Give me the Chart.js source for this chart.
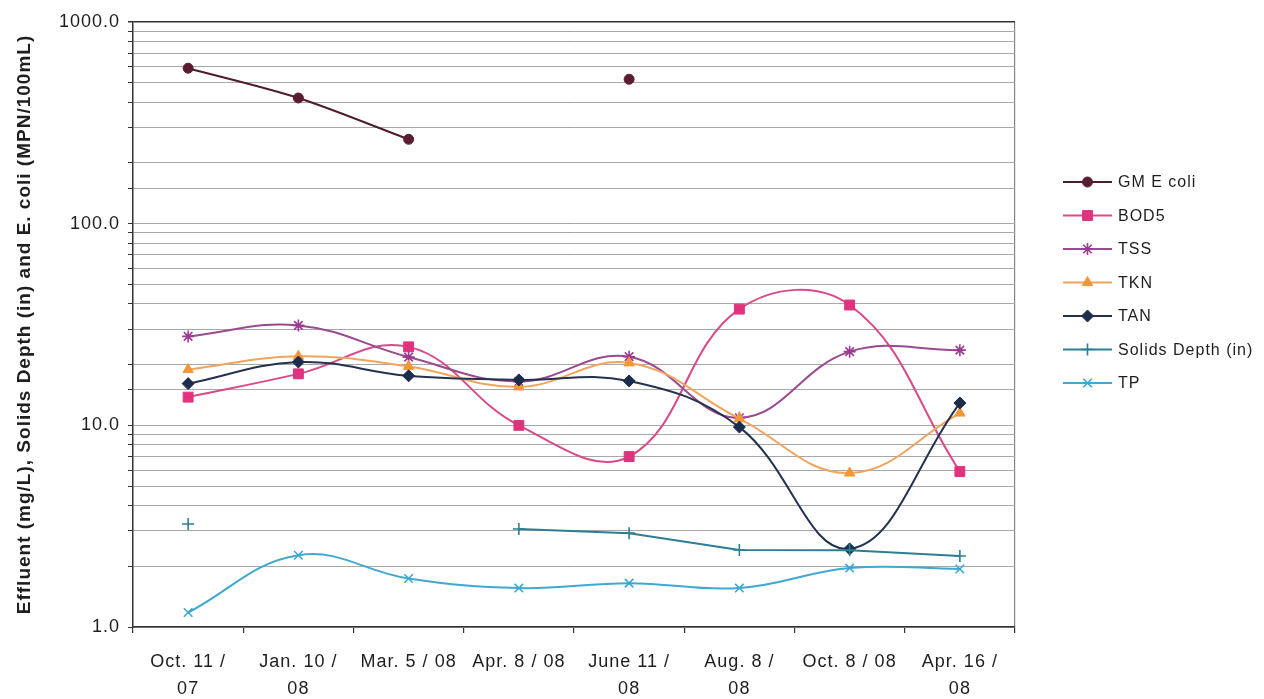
<!DOCTYPE html>
<html>
<head>
<meta charset="utf-8">
<title>Effluent quality and solids depth</title>
<script src="https://cdn.jsdelivr.net/npm/chart.js@4.4.1/dist/chart.umd.min.js"></script>
<style>
  html, body { margin: 0; padding: 0; background: #ffffff; }
  #wrap { width: 1264px; height: 699px; }
</style>
</head>
<body>
<div id="wrap"><canvas id="chart" width="1264" height="699"></canvas></div>
<script>
// Sampling dates
const dates = [
  ['Oct. 11 /', '07'],
  ['Jan. 10 /', '08'],
  'Mar. 5 / 08',
  'Apr. 8 / 08',
  ['June 11 /', '08'],
  ['Aug. 8 /', '08'],
  'Oct. 8 / 08',
  ['Apr. 16 /', '08']
];

// Measured values (null = not sampled)
const gmEColi     = [590, 420, 262, null, 520, null, null, null];
const bod5        = [13.8, 18.0, 24.5, 10.0, 7.0, 37.7, 39.5, 5.9];
const tss         = [27.6, 31.3, 21.8, 16.5, 21.9, 10.9, 23.2, 23.6];
const tkn         = [18.9, 22.0, 19.6, 15.5, 20.4, 10.8, 5.8, 11.5];
const tan         = [16.1, 20.6, 17.6, 16.8, 16.6, 9.8, 2.44, 12.9];
const solidsDepth = [3.24, null, null, 3.06, 2.92, 2.41, 2.40, 2.25];
const tp          = [1.18, 2.27, 1.74, 1.56, 1.65, 1.56, 1.96, 1.94];

// Axis range and title
const yMin = 1;
const yMax = 1000;
const yTitle = 'Effluent (mg/L), Solids Depth (in) and E. coli (MPN/100mL)';

const FONT = "'Liberation Sans', Arial, Helvetica, sans-serif";
const SPACING = '1px';

function series(label, data, color, lineColor, style, radius, tension, borderW) {
  return {
    label: label,
    data: data,
    borderColor: lineColor,
    backgroundColor: color,
    borderWidth: 2,
    pointStyle: style,
    pointRadius: radius,
    pointHoverRadius: radius,
    pointBackgroundColor: color,
    pointBorderColor: color,
    pointBorderWidth: borderW,
    tension: tension,
    spanGaps: false,
    fill: false
  };
}

const datasets = [
  series('GM E coli', gmEColi, '#5a1d30', '#4e1c2c', 'circle', 5, 0.3, 1),
  series('BOD5', bod5, '#e0337e', '#d94a8a', 'rect', 7, 0.4, 1),
  series('TSS', tss, '#9b3a90', '#9a4a8f', 'star', 6, 0.4, 1.6),
  series('TKN', tkn, '#f29638', '#f0a55e', 'triangle', 6, 0.4, 1),
  series('TAN', tan, '#1c2c4c', '#24324f', 'rectRot', 6, 0.4, 1),
  series('Solids Depth (in)', solidsDepth, '#2b7f93', '#2e7e92', 'cross', 6, 0, 1.6),
  series('TP', tp, '#38a8d2', '#3fa9d2', 'crossRot', 6, 0.4, 1.6)
];
// later series are painted over earlier ones
datasets.forEach((d, i) => { d.order = datasets.length - 1 - i; });

// Wide text rendering for every label on the canvas
const textSpacing = {
  id: 'textSpacing',
  beforeLayout(chart) { chart.ctx.letterSpacing = SPACING; },
  beforeDraw(chart) { chart.ctx.letterSpacing = SPACING; }
};

// Legend: a short line with the series marker, then the series name
const seriesLegend = {
  id: 'seriesLegend',
  afterDraw(chart) {
    const ctx = chart.ctx;
    const area = chart.chartArea;
    const x0 = area.right + 48;
    const x1 = x0 + 49;
    const tx = x1 + 6;
    let y = area.top + 160;
    ctx.save();
    ctx.letterSpacing = SPACING;
    ctx.font = '16px ' + FONT;
    ctx.textBaseline = 'middle';
    ctx.textAlign = 'left';
    chart.data.datasets.forEach(ds => {
      ctx.strokeStyle = ds.borderColor;
      ctx.lineWidth = ds.borderWidth;
      ctx.beginPath();
      ctx.moveTo(x0, y);
      ctx.lineTo(x1, y);
      ctx.stroke();
      ctx.fillStyle = ds.pointBackgroundColor;
      ctx.strokeStyle = ds.pointBorderColor;
      ctx.lineWidth = ds.pointBorderWidth;
      Chart.helpers.drawPoint(ctx, {
        pointStyle: ds.pointStyle,
        radius: ds.pointRadius,
        rotation: 0,
        borderWidth: ds.pointBorderWidth
      }, (x0 + x1) / 2, y);
      ctx.fillStyle = '#1e1e1e';
      ctx.fillText(ds.label, tx, y + 1);
      y += 33.5;
    });
    ctx.restore();
  }
};

function isDecade(v) {
  const e = Math.log10(v);
  return Math.abs(e - Math.round(e)) < 1e-9;
}

new Chart(document.getElementById('chart'), {
  type: 'line',
  data: { labels: dates, datasets: datasets },
  plugins: [textSpacing, seriesLegend],
  options: {
    responsive: false,
    animation: false,
    devicePixelRatio: 1,
    layout: { padding: { left: 0, top: 22, right: 249, bottom: 0 } },
    plugins: {
      legend: { display: false },
      tooltip: { enabled: false }
    },
    scales: {
      x: {
        type: 'category',
        offset: true,
        border: { display: true, color: '#333333', width: 1.5 },
        grid: {
          offset: true,
          drawOnChartArea: true,
          drawTicks: true,
          tickLength: 6,
          tickColor: '#333333',
          color: c => (c.type === 'scale' ? '#858585' : 'rgba(0,0,0,0)'),
          lineWidth: 1.2
        },
        ticks: {
          autoSkip: false,
          maxRotation: 0,
          minRotation: 0,
          padding: 16,
          color: '#1e1e1e',
          font: { family: FONT, size: 18, lineHeight: 1.5 }
        },
        afterFit: s => { s.height = 72; }
      },
      y: {
        type: 'logarithmic',
        min: yMin,
        max: yMax,
        border: { display: true, color: '#333333', width: 1.5 },
        grid: {
          drawTicks: true,
          tickLength: 5,
          tickColor: '#333333',
          color: c => (c.tick && c.tick.value === yMax ? '#333333' : '#a8a8a8'),
          lineWidth: c => (c.tick && c.tick.value === yMax ? 1.5 : 1)
        },
        ticks: {
          autoSkip: false,
          padding: 8,
          color: '#1e1e1e',
          font: { family: FONT, size: 18 },
          callback: v => (isDecade(v) ? Number(v).toFixed(1) : '')
        },
        title: {
          display: true,
          text: yTitle,
          color: '#1e1e1e',
          font: { family: FONT, size: 19, weight: 'bold' },
          padding: { top: 13, bottom: 0 }
        },
        afterFit: s => { s.width = 133; }
      }
    }
  }
});
</script>
</body>
</html>
